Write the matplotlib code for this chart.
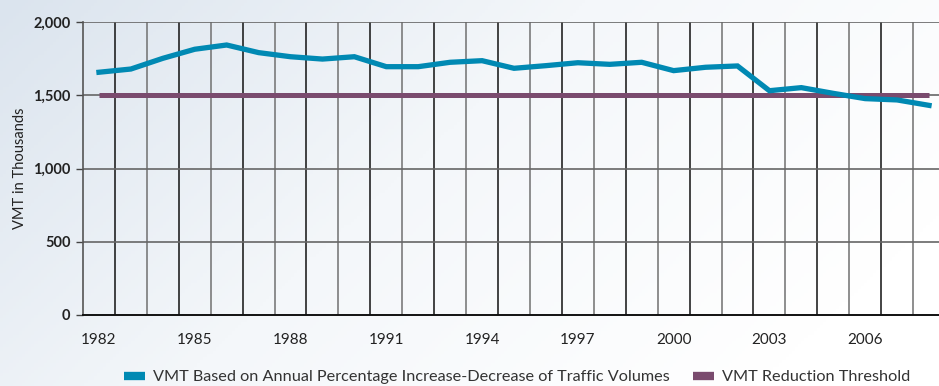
import numpy as np
import matplotlib.pyplot as plt
from matplotlib.colors import LinearSegmentedColormap
from matplotlib.lines import Line2D

years = list(range(1982, 2009))
vmt = [1657, 1679, 1752, 1814, 1843, 1791, 1763, 1747, 1763, 1695,
       1695, 1725, 1736, 1684, 1702, 1722, 1711, 1725, 1668, 1691,
       1700, 1531, 1552, 1513, 1477, 1468, 1431]
threshold = [1500] * len(years)
tick_years = list(range(1982, 2007, 3))
y_ticks = [0, 500, 1000, 1500, 2000]

blue = "#0089b3"
purple = "#7a4b6e"

plt.rcParams["font.family"] = ["Lato", "DejaVu Sans"]

fig = plt.figure(figsize=(9.39, 3.86), dpi=100)

# soft blue-grey wash fading to white towards the right
bg = fig.add_axes([0, 0, 1, 1], zorder=-10)
gx, gy = np.meshgrid(np.linspace(0, 1, 300), np.linspace(0, 1, 120))
t = np.clip(0.8 * gx + 0.35 * gy, 0, 1)
cmap = LinearSegmentedColormap.from_list("wash", ["#dbe4ee", "#f4f7fa", "#ffffff"])
bg.imshow(t, cmap=cmap, aspect="auto", extent=[0, 1, 0, 1], origin="upper")
bg.axis("off")

W, H = 939, 386
left, right, top, bottom = 83, 945, 22, 315
ax = fig.add_axes([left / W, 1 - bottom / H, (right - left) / W, (bottom - top) / H])
ax.patch.set_alpha(0)

ax.plot(years, vmt, color=blue, lw=3.8, solid_joinstyle="miter", zorder=4, clip_on=False)
ax.plot(years, threshold, color=purple, lw=3.6, solid_capstyle="butt", zorder=3, clip_on=False)

ax.set_xlim(1981.5, 2008.5)
ax.set_ylim(0, 2000)

# vertical separators between years
for i, b in enumerate(np.arange(1982.5, 2008.5, 1)):
    ax.axvline(b, color="#111111" if i % 2 == 0 else "#707070", lw=1.1, zorder=1)
for v in y_ticks[1:]:
    ax.axhline(v, color="#666666", lw=1.2, zorder=1)

ax.set_yticks(y_ticks)
ax.set_yticklabels([f"{v:,}" for v in y_ticks], fontsize=10.5, fontweight="bold", color="#222222")
ax.set_xticks(tick_years)
ax.set_xticklabels([str(y) for y in tick_years], fontsize=11, color="#222222")
ax.tick_params(axis="y", length=5, width=1, color="#444444", pad=4)
ax.tick_params(axis="x", length=0, pad=13)

for side in ["top", "right"]:
    ax.spines[side].set_visible(False)
ax.spines["left"].set_color("#555555")
ax.spines["left"].set_linewidth(1.2)
ax.spines["bottom"].set_color("#111111")
ax.spines["bottom"].set_linewidth(1.4)

ax.set_ylabel("VMT in Thousands", fontsize=10.5, color="#222222")
ax.yaxis.set_label_coords((27 - left) / (right - left), 0.5)

handles = [Line2D([], [], color=blue, lw=6, solid_capstyle="butt"),
           Line2D([], [], color=purple, lw=6, solid_capstyle="butt")]
labels = ["VMT Based on Annual Percentage Increase-Decrease of Traffic Volumes",
          "VMT Reduction Threshold"]
fig.legend(handles, labels, loc="center", bbox_to_anchor=(517 / W, 1 - 377 / H),
           ncol=2, frameon=False, fontsize=11.7, handlelength=1.3, handletextpad=0.5,
           columnspacing=1.4, labelcolor="#333333")

fig.savefig("out.png", dpi=100)
